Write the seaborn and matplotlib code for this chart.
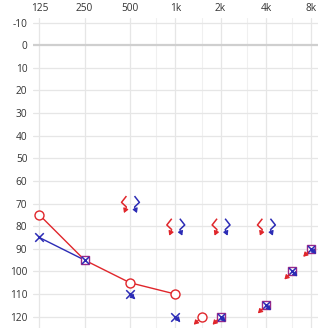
import matplotlib
matplotlib.use("Agg")
import matplotlib.pyplot as plt
import matplotlib.transforms as mtransforms
from matplotlib.path import Path
import seaborn as sns
import numpy as np

# ---- data ----
freq_ticks = [125, 250, 500, 1000, 2000, 4000, 8000]
freq_labels = ["125", "250", "500", "1k", "2k", "4k", "8k"]
half_octaves = [750, 1500, 3000, 6000]
db_ticks = list(range(-10, 130, 10))

right_line_freq = [125, 250, 500, 1000]
right_line_db = [75, 95, 105, 110]
right_o_freq = [125, 500, 1000]
right_o_db = [75, 105, 110]

left_line_freq = [125, 250]
left_line_db = [85, 95]
left_x_freq = [125]
left_x_db = [85]

left_nr_freq = [500, 1000]
left_nr_db = [110, 120]

right_nr_freq = [1500]
right_nr_db = [120]

both_freq = [250]
both_db = [95]
both_nr_freq = [2000, 4000, 6000, 8000]
both_nr_db = [120, 115, 100, 90]

bone_freq = [500, 1000, 2000, 4000]
bone_right_db = [70, 80, 80, 80]
bone_left_db = [70, 80, 80, 80]

RED = "#e0262b"
BLUE = "#2b2bb5"
PURPLE = "#9a2a8a"

sns.set_theme(style="white")
plt.rcParams["font.family"] = ["Open Sans", "DejaVu Sans"]

fig = plt.figure(figsize=(3.28, 3.32), dpi=100)
ax = fig.add_axes([33 / 328, 4 / 332, 285 / 328, 310 / 332])

ax.set_xscale("log", base=2)
ax.set_xlim(125 * 2 ** -0.14, 8000 * 2 ** 0.15)
ax.set_ylim(125, -12)

# grid
for f in freq_ticks:
    ax.axvline(f, color="#e6e6e6", lw=0.9, zorder=0)
for f in half_octaves:
    ax.axvline(f, color="#f0f0f0", lw=0.8, zorder=0)
for d in db_ticks:
    ax.axhline(d, color="#cfcfcf" if d == 0 else "#e6e6e6", lw=1.6 if d == 0 else 0.9, zorder=0)

ax.set_xticks(freq_ticks)
ax.set_xticklabels(freq_labels)
ax.xaxis.set_minor_locator(matplotlib.ticker.NullLocator())
ax.set_yticks(db_ticks)
ax.set_yticklabels([str(d) for d in db_ticks])
ax.xaxis.tick_top()
ax.tick_params(axis="both", length=0, labelsize=7.3, colors="#333333", pad=4)
ax.tick_params(axis="x", pad=3)
for s in ax.spines.values():
    s.set_visible(False)

# lines
sns.lineplot(x=right_line_freq, y=right_line_db, color=RED, lw=1.0, ax=ax, zorder=2)
sns.lineplot(x=left_line_freq, y=left_line_db, color=BLUE, lw=1.0, ax=ax, zorder=2)

def shifted(dx_px, dy_px=0):
    return ax.transData + mtransforms.ScaledTranslation(dx_px / 100, -dy_px / 100, fig.dpi_scale_trans)

def arrow(fx, dbs, color, sx, sy, ex, ey):
    for f, d in zip(fx, dbs):
        ax.annotate("", xy=(f, d), xytext=(f, d), xycoords=shifted(ex, ey), textcoords=shifted(sx, sy),
                    arrowprops=dict(arrowstyle="-|>,head_length=0.5,head_width=0.3", color=color, lw=0.9,
                                    shrinkA=0, shrinkB=0, mutation_scale=5), zorder=4)

# right O
sns.scatterplot(x=right_o_freq, y=right_o_db, marker="o", s=42, facecolor="white", edgecolor=RED,
                linewidth=1.0, ax=ax, zorder=3)
sns.scatterplot(x=right_nr_freq, y=right_nr_db, marker="o", s=42, facecolor="white", edgecolor=RED,
                linewidth=1.0, ax=ax, zorder=3)
arrow(right_nr_freq, right_nr_db, RED, -3, 3, -8, 8)

# left X
sns.scatterplot(x=left_x_freq, y=left_x_db, marker="x", s=38, color=BLUE, linewidth=1.1, ax=ax, zorder=3)
sns.scatterplot(x=left_nr_freq, y=left_nr_db, marker="x", s=38, color=BLUE, linewidth=1.1, ax=ax, zorder=3)
arrow(left_nr_freq, left_nr_db, BLUE, 2, 2, 5, 5)

# both (square with X)
for fx, dbs in ((both_freq, both_db), (both_nr_freq, both_nr_db)):
    sns.scatterplot(x=fx, y=dbs, marker="s", s=40, facecolor="white", edgecolor=PURPLE,
                    linewidth=1.0, ax=ax, zorder=3)
    sns.scatterplot(x=fx, y=dbs, marker="x", s=26, color=BLUE, linewidth=1.1, ax=ax, zorder=3)
arrow(both_nr_freq, both_nr_db, RED, -3, 3, -8, 8)
arrow(both_nr_freq, both_nr_db, BLUE, 3, 3, 5, 5)

# bone conduction chevrons
lt = Path([(0.45, 1.0), (-0.45, -0.15), (0.45, -1.0)], [Path.MOVETO, Path.LINETO, Path.LINETO])
gt = Path([(-0.45, 1.0), (0.45, -0.15), (-0.45, -1.0)], [Path.MOVETO, Path.LINETO, Path.LINETO])
sns.scatterplot(x=bone_freq, y=bone_right_db, marker=lt, s=62, facecolor="none", edgecolor=RED,
                linewidth=1.1, ax=ax, zorder=3, transform=shifted(-6, -2))
sns.scatterplot(x=bone_freq, y=bone_left_db, marker=gt, s=62, facecolor="none", edgecolor=BLUE,
                linewidth=1.1, ax=ax, zorder=3, transform=shifted(7, -2))
arrow(bone_freq, bone_right_db, RED, -3.5, 3.5, -6, 9.5)
arrow(bone_freq, bone_left_db, BLUE, 4.5, 3.5, 7, 9.5)

ax.set_xlabel("")
ax.set_ylabel("")
fig.savefig("out.png", dpi=100)
